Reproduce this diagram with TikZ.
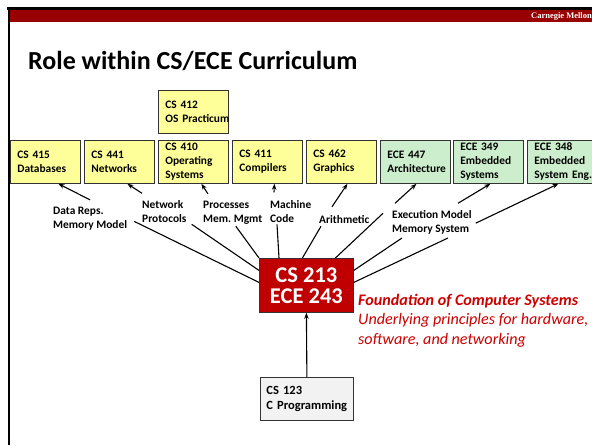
\documentclass[tikz,border=0pt]{standalone}
\usepackage{fontspec}
\setmainfont{Carlito}
\newfontfamily\cmufont{Liberation Serif}
\usetikzlibrary{arrows.meta,calc}
\frenchspacing

\definecolor{slidered}{RGB}{153,0,0}
\definecolor{csyellow}{RGB}{255,255,153}
\definecolor{ecegreen}{RGB}{204,238,204}
\definecolor{corered}{RGB}{192,0,0}
\definecolor{basegray}{RGB}{242,242,242}
\definecolor{notered}{RGB}{204,0,0}

\begin{document}
\begin{tikzpicture}[x=1pt,y=-1pt]
        \tikzset{course/.style={draw=black!80, line width=0.8pt, anchor=north west,
                minimum width=70pt, minimum height=43pt, text width=56pt,
                inner xsep=7pt, inner ysep=0pt, align=left,
                font=\fontsize{11.4}{14}\selectfont\bfseries}}
        \tikzset{cscourse/.style={course, fill=csyellow}}
        \tikzset{ececourse/.style={course, fill=ecegreen}}
        \tikzset{topic/.style={anchor=base west, inner sep=0pt, align=left,
                font=\fontsize{11.4}{13.5}\selectfont\bfseries}}
        \tikzset{uses/.style={-{Stealth[length=6pt,width=4.5pt]}, line width=1.1pt}}
        \tikzset{feeds/.style={line width=1.1pt}}
        \fill[white] (0,0) rectangle (592,445);
        \useasboundingbox (0,0) rectangle (592,445);
        % slide frame
        \fill[black] (7,7) rectangle (592,9.5);
        \fill[slidered] (10,9.5) rectangle (592,22);
        \fill[black] (7.5,7) rectangle (10,445);
        \node[anchor=base east, inner sep=0pt, text=white,
              font=\cmufont\fontsize{8.5}{10}\selectfont\bfseries] (cmu) at (592,18.5) {Carnegie Mellon};
        \node[anchor=base west, inner sep=0pt,
              font=\fontsize{26}{30}\selectfont\bfseries] (title) at (28,69) {Role within CS/ECE Curriculum};
        % upper level courses
        \node[cscourse] (cs412) at (158,90) {CS~412\\OS~Practicum};
        \node[cscourse] (cs415) at (10,140) {CS~415\\Databases};
        \node[cscourse] (cs441) at (84,140) {CS~441\\Networks};
        \node[cscourse] (cs410) at (158,140) {CS~410\\Operating\\Systems};
        \node[cscourse] (cs411) at (232,140) {CS~411\\Compilers};
        \node[cscourse] (cs462) at (306,140) {CS~462\\Graphics};
        \node[ececourse] (ece447) at (380,140) {ECE~447\\Architecture};
        \node[ececourse] (ece349) at (453,140) {ECE~349\\Embedded\\Systems};
        \node[ececourse] (ece348) at (527,140) {ECE~348\\Embedded\\System~Eng.};
        % the core course and its prerequisite
        \node[draw=black!80, line width=0.8pt, fill=corered, text=white, anchor=north west,
              minimum width=94pt, minimum height=54pt, inner sep=0pt, align=center,
              font=\fontsize{22.5}{21}\selectfont\bfseries] (cs213) at (259,258) {CS 213\\ECE 243};
        \node[draw=black!80, line width=0.8pt, fill=basegray, anchor=north west,
              minimum width=93pt, minimum height=43pt, text width=81pt,
              inner xsep=6pt, inner ysep=0pt, align=left,
              font=\fontsize{12.5}{15}\selectfont\bfseries] (cs123) at (260,377) {CS~123\\C~Programming};
        \node[anchor=base west, inner sep=0pt, text=notered, align=left,
              font=\fontsize{16.1}{19.5}\selectfont\itshape] (found) at (358,344)
              {\textbf{Foundation of Computer Systems}\\Underlying principles for hardware,\\software, and networking};
        % topics
        \node[topic] (datareps) at (53,228) {Data Reps.\\Memory Model};
        \node[topic] (netproto) at (142,222) {Network\\Protocols};
        \node[topic] (procmem) at (203,222) {Processes\\Mem. Mgmt};
        \node[topic] (machcode) at (270,222) {Machine\\Code};
        \node[topic] (arith) at (319,223) {Arithmetic};
        \node[topic] (execmodel) at (392,232) {Execution Model\\Memory System};
        % topics up to courses
        \draw[uses] ($(datareps.north)+(0,-7)$) -- ($(cs415.south)+(13,0)$);
        \draw[uses] ($(netproto.north west)+(0,-7)$) -- ($(cs441.south)+(8,0)$);
        \draw[uses] ($(procmem.north west)+(5,-7)$) -- ($(cs410.south)+(8,0)$);
        \draw[uses] ($(machcode.north west)+(4,-8)$) -- ($(cs411.south)+(7,0)$);
        \draw[uses] ($(arith.north west)+(13,-8)$) -- ($(cs462.south)+(6,0)$);
        \draw[uses] ($(execmodel.north west)+(3,-7)$) -- ($(ece447.south)+(1,0)$);
        \draw[uses] ($(execmodel.north west)+(66,-7)$) -- ($(ece349.south)+(2,0)$);
        \draw[uses] ($(execmodel.east)+(4,1)$) -- ($(ece348.south)+(-4,0)$);
        % topics down to the core course
        \draw[feeds] ($(datareps.east)+(7,3)$) -- ($(cs213.west)+(0,-3)$);
        \draw[feeds] ($(netproto.south east)+(5,2)$) -- ($(cs213.west)+(0,-15)$);
        \draw[feeds] ($(procmem.south)+(3,2)$) -- (cs213.north west);
        \draw[feeds] ($(machcode.south west)+(7,2)$) -- ($(cs213.north west)+(20,0)$);
        \draw[feeds] ($(arith.south west)+(2,3)$) -- ($(cs213.north)+(-4,0)$);
        \draw[feeds] ($(execmodel.north west)+(-9,3)$) -- ($(cs213.north)+(29,0)$);
        \draw[feeds] ($(execmodel.south west)+(10,4)$) -- ($(cs213.east)+(0,-15)$);
        \draw[feeds] ($(execmodel.south west)+(56,4)$) -- ($(cs213.east)+(0,-3)$);
        \draw[uses] (cs123.north) -- (cs213.south);
\end{tikzpicture}
\end{document}
